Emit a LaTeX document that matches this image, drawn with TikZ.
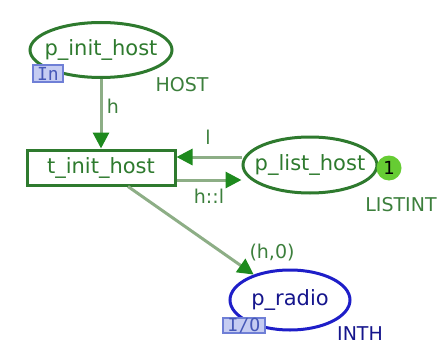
\documentclass[tikz,border=0pt]{standalone}
\usepackage{fontspec}
\setmainfont{DejaVu Sans}
\newfontfamily\tagfont{DejaVu Sans Mono}
\usetikzlibrary{shapes.geometric,arrows.meta,calc}
\definecolor{pgreen}{HTML}{2E7A2E}
\definecolor{agreen}{HTML}{8DAE86}
\definecolor{tipgreen}{HTML}{1E8A1E}
\definecolor{lgreen}{HTML}{3C7F3C}
\definecolor{tokgreen}{HTML}{66CC33}
\definecolor{pblue}{HTML}{1E1EC8}
\definecolor{tagfill}{HTML}{C5CCF2}
\definecolor{tagdraw}{HTML}{6F7FD6}
\definecolor{tagtext}{HTML}{4658B8}
\begin{document}
\begin{tikzpicture}[x=1pt,y=-1pt,
  font=\fontsize{19}{22}\selectfont,
  place/.style={ellipse,draw=pgreen,line width=3pt,inner sep=0pt},
  ptext/.style={text=pgreen,inner sep=0pt,font=\fontsize{21}{24}\selectfont},
  trans/.style={rectangle,draw=pgreen,line width=3pt,inner sep=0pt,text=pgreen,minimum width=148pt,minimum height=35pt,font=\fontsize{21}{24}\selectfont},
  arc/.style={draw=agreen,line width=3pt,-{Triangle[length=16pt,width=16pt,color=tipgreen]}},
  lab/.style={text=lgreen,inner sep=0pt},
  tag/.style={draw=tagdraw,fill=tagfill,line width=1.5pt,text=tagtext,inner sep=0pt,font=\tagfont\fontsize{18}{18}\selectfont}]
\useasboundingbox (0,0) rectangle (439,345);
% places and transition
\node[place,minimum width=142pt,minimum height=55pt] (pih) at (101,50) {};
\node[ptext] (pihtext) at (pih) {p\_init\_host};
\node[trans] (tih) at (101,167.5) {t\_init\_host};
\node[place,minimum width=134pt,minimum height=56pt] (plh) at (310,165) {};
\node[ptext] (plhtext) at (plh) {p\_list\_host};
\node[place,draw=pblue,minimum width=120pt,minimum height=60pt] (pr) at (290,300) {};
\node[ptext,text=pblue!70!black] (prtext) at (pr) {p\_radio};
% tags
\node[tag,minimum width=30pt,minimum height=17pt] (tin) at (48,73.5) {In};
\node[tag,minimum width=42pt,minimum height=15pt] (tio) at (244,325.5) {I/O};
% token
\node[circle,fill=tokgreen,inner sep=0pt,minimum size=25pt,font=\fontsize{18}{20}\selectfont] (tok) at (389,168) {1};
% colour set labels
\node[lab] (lhost) at (182,85) {HOST};
\node[lab] (llist) at (401,205) {LISTINT};
\node[lab,text=pblue!70!black] (linth) at (360,334) {INTH};
% arcs
\coordinate (yl) at (0,157);
\coordinate (yh) at (0,180);
\draw[arc] (pih) -- (tih);
\draw[arc] (plh.west |- yl) -- (tih.east |- yl);
\draw[arc] (tih.east |- yh) -- (plh.west |- yh);
\draw[arc] ($(tih.south)+(27,0)$) -- (pr);
% arc labels
\node[lab] (ah) at (113,106) {h};
\node[lab] (al) at (208,137) {l};
\node[lab] (ahl) at (209,196) {h::l};
\node[lab] (ah0) at (272,253) {(h,0)};
\end{tikzpicture}
\end{document}
